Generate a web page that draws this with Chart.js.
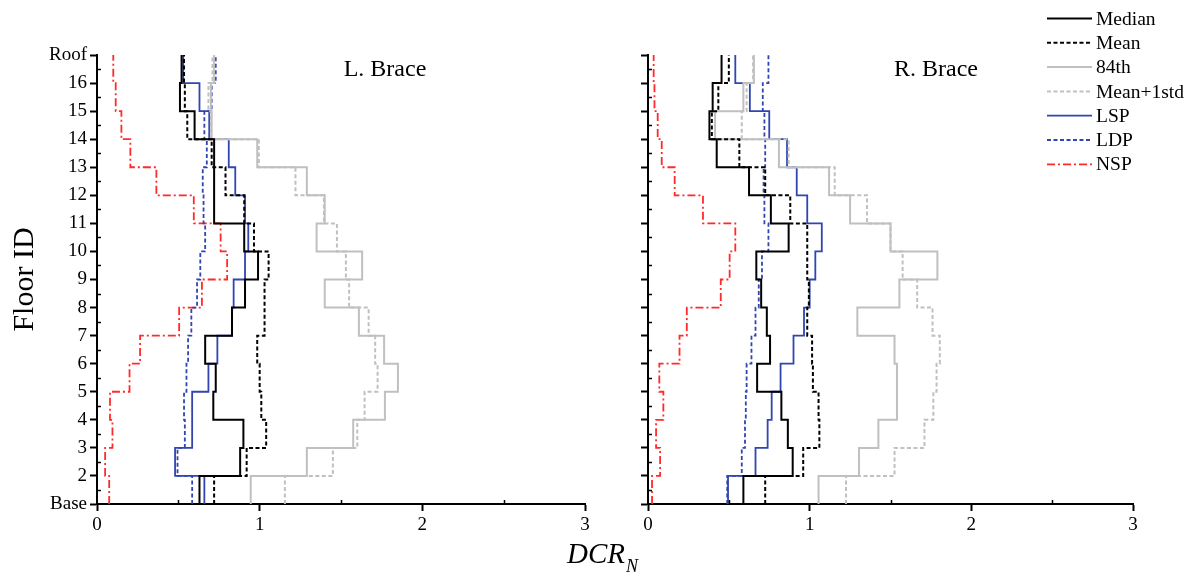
<!DOCTYPE html>
<html>
<head>
<meta charset="utf-8">
<script src="https://cdn.jsdelivr.net/npm/chart.js@4.4.1/dist/chart.umd.min.js"></script>
<style>
  html, body { margin: 0; padding: 0; background: #fff; }
  #wrap { position: relative; width: 1197px; height: 578px; }
  #wrap canvas { position: absolute; left: 0; top: 0; }
</style>
</head>
<body>
<div id="wrap">
  <canvas id="leftBrace" width="1197" height="578"></canvas>
  <canvas id="rightBrace" width="1197" height="578"></canvas>
</div>
<script>
// Floor levels on the vertical axis (Base = 1 ... Roof = 17)
const floorLabels = ['Base', '2', '3', '4', '5', '6', '7', '8', '9', '10',
                     '11', '12', '13', '14', '15', '16', 'Roof'];
// Stories 1..16, each spanning from its floor level to the next one up
const stories = [1, 2, 3, 4, 5, 6, 7, 8, 9, 10, 11, 12, 13, 14, 15, 16];
const xTicks = [0, 1, 2, 3];
const seriesNames = ['Median', 'Mean', '84th', 'Mean+1std', 'LSP', 'LDP', 'NSP'];

// L. Brace — DCR_N per story (story 1 first)
const leftMedian   = [0.63, 0.88, 0.90, 0.715, 0.73, 0.665, 0.83, 0.91, 0.99, 0.905, 0.72, 0.72, 0.72, 0.60, 0.51, 0.52];
const leftMean     = [0.72, 0.92, 1.04, 1.01, 1.00, 0.985, 1.03, 1.03, 1.055, 0.965, 0.905, 0.79, 0.705, 0.555, 0.54, 0.535];
const left84th     = [0.945, 1.29, 1.575, 1.77, 1.85, 1.765, 1.61, 1.40, 1.63, 1.35, 1.40, 1.29, 0.985, 0.705, 0.70, 0.72];
const leftMeanStd  = [1.155, 1.45, 1.60, 1.645, 1.725, 1.71, 1.67, 1.55, 1.53, 1.475, 1.395, 1.22, 0.995, 0.70, 0.685, 0.71];
const leftLSP      = [0.66, 0.48, 0.585, 0.585, 0.685, 0.74, 0.83, 0.84, 0.91, 0.93, 0.91, 0.85, 0.81, 0.69, 0.63, 0.53];
const leftLDP      = [0.585, 0.495, 0.54, 0.535, 0.55, 0.56, 0.58, 0.615, 0.635, 0.665, 0.655, 0.65, 0.675, 0.66, 0.705, 0.73];
const leftNSP      = [0.075, 0.05, 0.095, 0.08, 0.2, 0.265, 0.505, 0.645, 0.80, 0.76, 0.595, 0.365, 0.205, 0.15, 0.115, 0.10];

// R. Brace — DCR_N per story (story 1 first)
const rightMedian  = [0.59, 0.895, 0.865, 0.825, 0.675, 0.755, 0.735, 0.70, 0.67, 0.87, 0.76, 0.625, 0.425, 0.38, 0.40, 0.455];
const rightMean    = [0.725, 0.96, 1.06, 1.055, 1.02, 1.015, 0.985, 0.995, 0.985, 0.985, 0.88, 0.725, 0.565, 0.395, 0.435, 0.50];
const right84th    = [1.055, 1.305, 1.425, 1.54, 1.54, 1.525, 1.295, 1.555, 1.79, 1.50, 1.25, 1.12, 0.81, 0.415, 0.59, 0.655];
const rightMeanStd = [1.225, 1.525, 1.71, 1.765, 1.785, 1.805, 1.76, 1.665, 1.575, 1.50, 1.355, 1.155, 0.87, 0.58, 0.61, 0.65];
const rightLSP     = [0.495, 0.665, 0.74, 0.765, 0.82, 0.90, 0.965, 1.00, 1.035, 1.075, 0.985, 0.92, 0.86, 0.75, 0.63, 0.54];
const rightLDP     = [0.49, 0.58, 0.60, 0.605, 0.61, 0.64, 0.665, 0.685, 0.705, 0.745, 0.72, 0.715, 0.725, 0.72, 0.71, 0.745];
const rightNSP     = [0.025, 0.075, 0.05, 0.095, 0.07, 0.195, 0.24, 0.45, 0.505, 0.54, 0.34, 0.165, 0.085, 0.06, 0.04, 0.035];

const SERIF = "'Liberation Serif', 'Times New Roman', serif";

const styles = [
  { color: '#000000', dash: [],           width: 2   },
  { color: '#000000', dash: [4, 2.5],     width: 2   },
  { color: '#c0c0c0', dash: [],           width: 2   },
  { color: '#c0c0c0', dash: [4, 2.5],     width: 2   },
  { color: '#3045b0', dash: [],           width: 1.8 },
  { color: '#3045b0', dash: [4, 2.5],     width: 1.8 },
  { color: '#ff2a2a', dash: [8, 3, 2, 3], width: 1.8 }
];

// A story value becomes a vertical segment from its floor level to the next.
function storySteps(values) {
  const pts = [];
  stories.forEach((s, i) => {
    pts.push({ x: values[i], y: s });
    pts.push({ x: values[i], y: s + 1 });
  });
  return pts;
}

function makeDatasets(seriesList) {
  return seriesList.map((vals, i) => ({
    label: seriesNames[i],
    data: storySteps(vals),
    borderColor: styles[i].color,
    backgroundColor: styles[i].color,
    borderDash: styles[i].dash,
    borderWidth: styles[i].width,
    pointRadius: 0,
    tension: 0,
    fill: false
  }));
}

// Short inward minor ticks, panel caption, shared x caption and the legend
const decor = {
  id: 'decor',
  afterDraw(chart, args, opts) {
    const { ctx, chartArea: ca, scales: { x, y } } = chart;
    ctx.save();
    ctx.strokeStyle = '#000';
    ctx.lineWidth = 1.5;
    ctx.beginPath();
    for (let v = 1.5; v < 17; v += 1) {
      const py = Math.round(y.getPixelForValue(v)) + 0.5;
      ctx.moveTo(ca.left, py);
      ctx.lineTo(ca.left + 4, py);
    }
    for (let v = 0.5; v < 3; v += 1) {
      const px = Math.round(x.getPixelForValue(v)) + 0.5;
      ctx.moveTo(px, ca.bottom);
      ctx.lineTo(px, ca.bottom - 4);
    }
    ctx.stroke();

    ctx.fillStyle = '#000';
    ctx.textBaseline = 'middle';
    ctx.textAlign = 'center';
    ctx.font = `24px ${SERIF}`;
    ctx.fillText(opts.caption, ca.left + opts.captionDx, 70);

    if (opts.xTitle) {
      ctx.textBaseline = 'alphabetic';
      ctx.textAlign = 'left';
      const main = 'DCR';
      ctx.font = `italic 29px ${SERIF}`;
      const w1 = ctx.measureText(main).width;
      ctx.font = `italic 18px ${SERIF}`;
      const w2 = ctx.measureText('N').width;
      const x0 = 602 - (w1 + w2) / 2;
      ctx.font = `italic 29px ${SERIF}`;
      ctx.fillText(main, x0, 563);
      ctx.font = `italic 18px ${SERIF}`;
      ctx.fillText('N', x0 + w1 + 1, 572);
    }

    if (opts.legend) {
      ctx.font = `19.5px ${SERIF}`;
      ctx.textAlign = 'left';
      ctx.textBaseline = 'middle';
      chart.data.datasets.forEach((ds, i) => {
        const ly = 18.5 + i * 24.3;
        ctx.beginPath();
        ctx.strokeStyle = ds.borderColor;
        ctx.lineWidth = ds.borderWidth;
        ctx.setLineDash(ds.borderDash);
        ctx.moveTo(1047, ly);
        ctx.lineTo(1092, ly);
        ctx.stroke();
        ctx.setLineDash([]);
        ctx.fillStyle = '#000';
        ctx.fillText(ds.label, 1096, ly + 1);
      });
    }
    ctx.restore();
  }
};

function makeChart(canvasId, seriesList, cfg) {
  return new Chart(document.getElementById(canvasId), {
    type: 'line',
    data: { datasets: makeDatasets(seriesList) },
    plugins: [decor],
    options: {
      responsive: false,
      animation: false,
      events: [],
      layout: { padding: { left: cfg.padLeft, right: cfg.padRight, top: 55, bottom: 0 } },
      plugins: {
        legend: { display: false },
        tooltip: { enabled: false },
        decor: { caption: cfg.caption, captionDx: 288, xTitle: cfg.xTitle, legend: cfg.legend }
      },
      scales: {
        x: {
          type: 'linear',
          min: xTicks[0],
          max: xTicks[xTicks.length - 1],
          afterBuildTicks: (scale) => { scale.ticks = xTicks.map(v => ({ value: v })); },
          afterFit: (scale) => { scale.height = 74; },
          border: { color: '#000', width: 2 },
          grid: { drawOnChartArea: false, drawTicks: true, tickLength: 7, tickWidth: 2, tickColor: '#000' },
          ticks: { color: '#000', padding: 3, font: { family: SERIF, size: 19 }, maxRotation: 0 }
        },
        y: {
          type: 'linear',
          min: 1,
          max: 17,
          afterBuildTicks: (scale) => { scale.ticks = floorLabels.map((_, i) => ({ value: i + 1 })); },
          afterFit: (scale) => { scale.width = cfg.yWidth; },
          border: { color: '#000', width: 2 },
          grid: { drawOnChartArea: false, drawTicks: true, tickLength: 7, tickWidth: 2, tickColor: '#000' },
          ticks: {
            color: '#000',
            padding: 3,
            autoSkip: false,
            font: { family: SERIF, size: 19 },
            callback: (v) => cfg.yLabels ? floorLabels[Math.round(v) - 1] : ''
          },
          title: cfg.yLabels ? {
            display: true,
            text: 'Floor ID',
            color: '#000',
            font: { family: SERIF, size: 30 },
            padding: { top: 7, bottom: 0 }
          } : { display: false }
        }
      }
    }
  });
}

makeChart('leftBrace',
  [leftMedian, leftMean, left84th, leftMeanStd, leftLSP, leftLDP, leftNSP],
  { padLeft: 0, padRight: 612, yWidth: 97, yLabels: true, caption: 'L. Brace', xTitle: true, legend: false });

makeChart('rightBrace',
  [rightMedian, rightMean, right84th, rightMeanStd, rightLSP, rightLDP, rightNSP],
  { padLeft: 600, padRight: 64, yWidth: 48, yLabels: false, caption: 'R. Brace', xTitle: false, legend: true });
</script>
</body>
</html>
